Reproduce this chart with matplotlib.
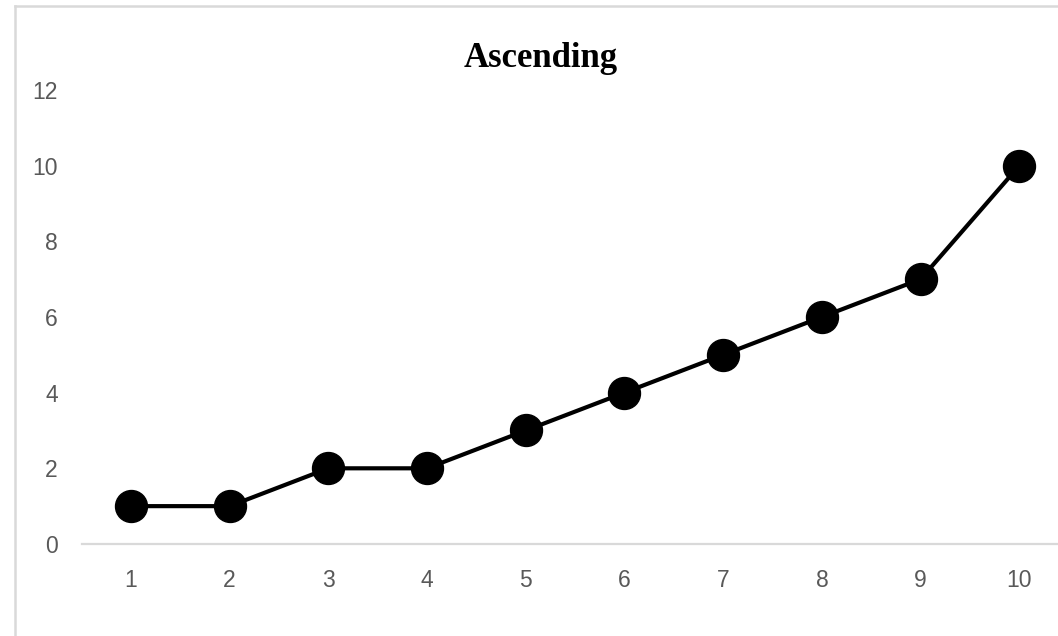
import matplotlib.pyplot as plt
from matplotlib.lines import Line2D

categories = ["1", "2", "3", "4", "5", "6", "7", "8", "9", "10"]
values = [1, 1, 2, 2, 3, 4, 5, 6, 7, 10]
yticks = [0, 2, 4, 6, 8, 10, 12]

fig = plt.figure(figsize=(10.58, 6.36), dpi=100)
ax = fig.add_axes([0.0771, 0.1447, 0.933, 0.7138])

x = range(len(categories))
ax.plot(x, values, color="black", lw=3.0, marker="o", markersize=23,
        markerfacecolor="black", markeredgecolor="black", zorder=3)

ax.set_xlim(-0.5, len(categories) - 0.5)
ax.set_ylim(0, 12)
ax.set_xticks(list(x))
ax.set_xticklabels(categories)
ax.set_yticks(yticks)
ax.tick_params(axis="both", length=0, labelsize=16.5, labelcolor="#595959",
               labelfontfamily="Liberation Sans")
ax.tick_params(axis="x", pad=18)
ax.tick_params(axis="y", pad=17)

for side in ["top", "right", "left"]:
    ax.spines[side].set_visible(False)
ax.spines["bottom"].set_color("#d9d9d9")
ax.spines["bottom"].set_linewidth(1.6)
ax.spines["bottom"].set_zorder(1)

fig.text(0.511, 0.908, "Ascending", ha="center", va="center", fontsize=25,
         fontweight="bold", family="Liberation Serif", color="black")

# chart frame
fig.add_artist(Line2D([0.0142, 0.0142], [0.0, 0.9906], color="#d9d9d9", lw=1.8,
                      transform=fig.transFigure))
fig.add_artist(Line2D([0.0142, 1.0], [0.9906, 0.9906], color="#d9d9d9", lw=1.8,
                      transform=fig.transFigure))

fig.savefig("out.png", dpi=100)
